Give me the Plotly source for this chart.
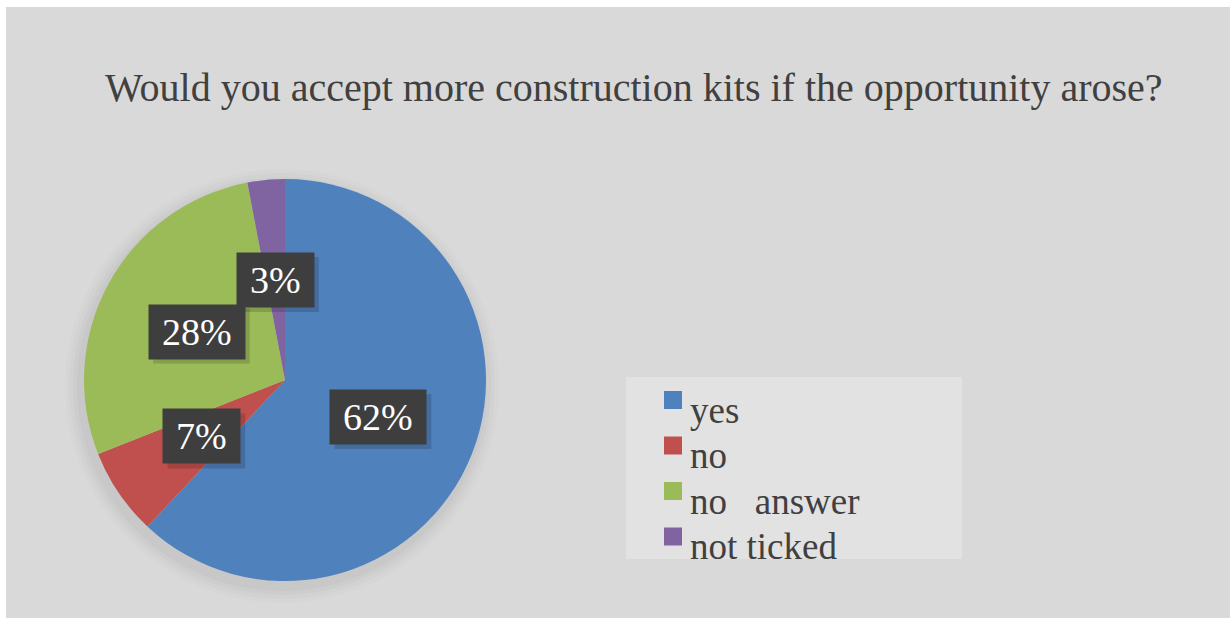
import math
import plotly.graph_objects as go

# Survey answers
labels = ["yes", "no", "no\u00a0\u00a0 answer", "not ticked"]
shares = [62, 7, 28, 3]
colors = ["#4f81bd", "#c0504d", "#9bbb59", "#8064a2"]
title_text = "Would you accept more construction kits if the opportunity arose?"

W, H = 1231, 618
SERIF = "Liberation Serif"

# pie placement in pixels (y measured from the top)
cx, cy, R = 285, 380, 201


def px(x):
    return x / W


def py(y):
    return 1 - y / H


fig = go.Figure(
    go.Pie(
        labels=labels,
        values=shares,
        sort=False,
        direction="clockwise",
        rotation=0,
        marker=dict(colors=colors, line=dict(width=0)),
        textinfo="none",
        hoverinfo="label+percent",
        showlegend=False,
        domain=dict(x=[px(cx - R), px(cx + R)], y=[py(cy + R), py(cy - R)]),
    )
)

shapes = []
# chart area background
shapes.append(dict(type="rect", xref="paper", yref="paper",
                   x0=px(6), x1=px(1230), y0=0, y1=py(7),
                   fillcolor="#d9d9d9", line=dict(width=0), layer="below"))
# soft shadow under the pie
for k, a in [(16, 0.012), (12, 0.016), (8, 0.02), (4, 0.025)]:
    shapes.append(dict(type="circle", xref="paper", yref="paper",
                       x0=px(cx - R - k - 3), x1=px(cx + R + k - 3),
                       y0=py(cy + R + k + 6), y1=py(cy - R - k + 6),
                       fillcolor=f"rgba(0,0,0,{a})", line=dict(width=0), layer="below"))

annotations = []
# title
annotations.append(dict(text=title_text, xref="paper", yref="paper",
                        x=px(634), y=py(88), xanchor="center", yanchor="middle",
                        showarrow=False,
                        font=dict(family=SERIF, size=40, color="#404040")))

# percentage labels placed at half radius on each slice's mid angle
total = sum(shares)
cum = 0
for v in shares:
    mid = (cum + v / 2) / total
    cum += v
    th = 2 * math.pi * mid
    lx = cx + 0.5 * R * math.sin(th)
    ly = cy - 0.5 * R * math.cos(th)
    txt = f"{round(100 * v / total)}%"
    fs = 38
    ndig = len(txt) - 1
    bw = fs * (0.5 * ndig + 0.833) + 20
    bh = 48
    # drop shadow of the label box
    shapes.append(dict(type="rect", xref="paper", yref="paper",
                       x0=px(lx - bw / 2 - 3 + 4), x1=px(lx + bw / 2 + 3 + 5),
                       y0=py(ly + bh / 2 + 3 + 5), y1=py(ly - bh / 2 - 3 + 4),
                       fillcolor="rgba(0,0,0,0.15)", line=dict(width=0)))
    annotations.append(dict(text=txt, xref="paper", yref="paper",
                            x=px(lx), y=py(ly), xanchor="center", yanchor="middle",
                            showarrow=False, width=bw, height=bh, borderpad=3,
                            bgcolor="#3e3e3e",
                            font=dict(family=SERIF, size=fs, color="white")))

# legend
shapes.append(dict(type="rect", xref="paper", yref="paper",
                   x0=px(626), x1=px(962), y0=py(559), y1=py(377),
                   fillcolor="#e2e2e2", line=dict(width=0)))
for i, (lab, col) in enumerate(zip(labels, colors)):
    top = 391 + 45.5 * i
    shapes.append(dict(type="rect", xref="paper", yref="paper",
                       x0=px(664), x1=px(682), y0=py(top + 18), y1=py(top),
                       fillcolor=col, line=dict(width=0)))
    annotations.append(dict(text=lab, xref="paper", yref="paper",
                            x=px(688), y=py(top + 19), xanchor="left", yanchor="middle",
                            showarrow=False,
                            font=dict(family=SERIF, size=37, color="#404040")))

fig.update_layout(
    width=W, height=H,
    margin=dict(l=0, r=0, t=0, b=0),
    paper_bgcolor="white",
    plot_bgcolor="white",
    shapes=shapes,
    annotations=annotations,
)

fig.write_html("out.html")
